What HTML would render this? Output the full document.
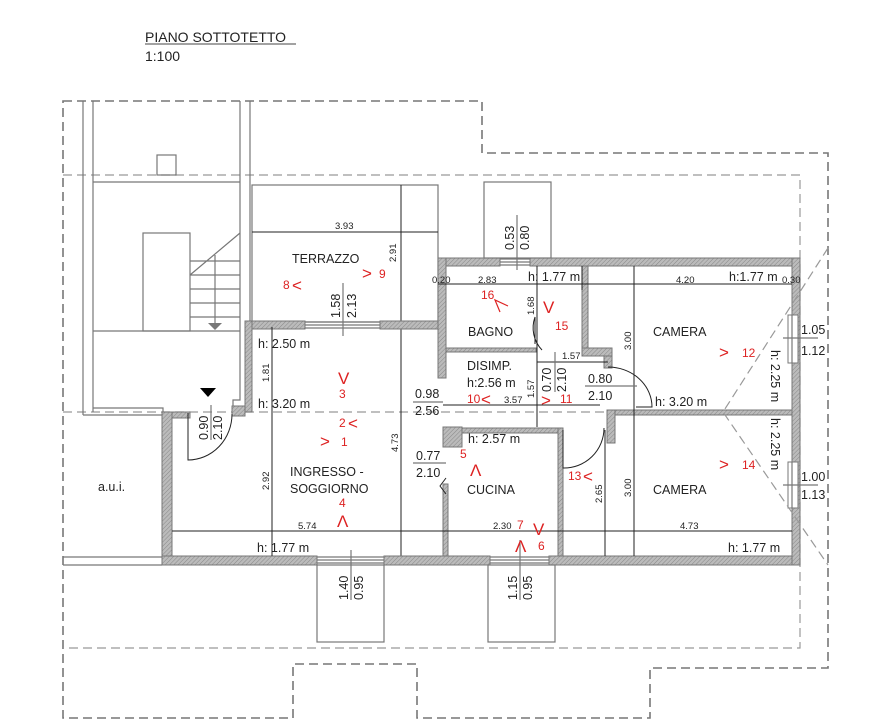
<!DOCTYPE html>
<html><head><meta charset="utf-8"><style>
html,body{margin:0;padding:0;background:#fff;}
svg{display:block;font-family:"Liberation Sans",sans-serif;}
.d{fill:none;stroke:#777;stroke-width:1.6;stroke-dasharray:9 5;}
.dl{fill:none;stroke:#999;stroke-width:1.2;stroke-dasharray:9 5;}
.l{fill:none;stroke:#777;stroke-width:1.2;}
.k{fill:none;stroke:#222;stroke-width:1;}
.w{fill:url(#h);stroke:#777;stroke-width:1;}
.t{font-size:12.5px;fill:#222;}
.s{font-size:9.5px;fill:#222;}
.r{font-size:12px;fill:#d22;}
.rc{font-size:17px;fill:#d22;font-weight:300;}
.rp{fill:none;stroke:#d22;stroke-width:1.2;}
</style></head><body>
<svg width="895" height="727" viewBox="0 0 895 727">
<defs><pattern id="h" width="3" height="3" patternUnits="userSpaceOnUse" patternTransform="rotate(45)"><rect width="3" height="3" fill="#bbb"/><line x1="0" y1="0" x2="0" y2="3" stroke="#888" stroke-width="1"/></pattern></defs>

<text x="145" y="42" style="font-size:14px" fill="#222">PIANO SOTTOTETTO</text>
<line x1="145" y1="44" x2="296" y2="44" stroke="#444" stroke-width="1"/>
<text x="145" y="61" style="font-size:14px" fill="#222">1:100</text>

<path class="d" d="M63,101 H482 V153 H828 V668 H650 V718 H417 V664 H293 V718 H63 Z"/>
<path class="dl" d="M63,175 H800 V648 H63"/>
<line class="dl" x1="63" y1="412" x2="620" y2="412"/>

<path class="l" d="M83,101 V415 M93,101 V412 M240,101 V325 M250,101 V322"/>
<rect class="l" x="157" y="155" width="19" height="20"/>
<line class="l" x1="93" y1="182" x2="240" y2="182"/>
<line class="l" x1="93" y1="331" x2="240" y2="331"/>
<rect class="l" x="143" y="233" width="47" height="98"/>
<path class="l" d="M190,275 L240,233 M190,261 H240 M190,275 H240 M190,289 H240 M190,303 H240 M190,317 H240"/>
<line class="l" x1="215" y1="255" x2="215" y2="323"/>
<path d="M208,323 H222 L215,330 Z" fill="#777"/>
<path class="l" d="M83,415 H163 M93,408 H163 V412 M240,325 V400 H233 V412"/>
<path d="M200,388 H216 L208,397 Z" fill="#000"/>
<path class="l" d="M63,557 H162 M63,565 H162"/>
<text class="t" x="98" y="491">a.u.i.</text>

<rect class="l" x="252" y="185" width="186" height="137"/>
<line class="k" x1="252" y1="232" x2="438" y2="232"/>
<text class="s" x="335" y="229">3.93</text>
<line class="k" x1="401" y1="185" x2="401" y2="556"/>
<text class="s" transform="translate(396,262) rotate(-90)">2.91</text>
<text class="t" x="292" y="263">TERRAZZO</text>
<text class="r" x="283" y="289">8</text><text class="rc" x="292" y="291">&lt;</text>
<text class="rc" x="362" y="279">&gt;</text><text class="r" x="379" y="278">9</text>
<line class="l" x1="343" y1="283" x2="343" y2="336"/>
<text class="t" transform="translate(340,318) rotate(-90)">1.58</text>
<text class="t" transform="translate(356,318) rotate(-90)">2.13</text>

<rect class="w" x="245" y="321" width="60" height="8"/>
<rect class="w" x="380" y="321" width="66" height="8"/>
<path class="l" d="M305,322 H380 M305,325 H380 M305,328 H380"/>
<rect class="w" x="245" y="321" width="7" height="91"/>
<rect class="w" x="162" y="412" width="28" height="6"/>
<rect class="w" x="232" y="406" width="13" height="10"/>
<rect class="w" x="162" y="412" width="10" height="153"/>
<rect class="w" x="162" y="556" width="155" height="9"/>
<rect class="w" x="384" y="556" width="106" height="9"/>
<rect class="w" x="549" y="556" width="251" height="9"/>
<path class="l" d="M317,557 H384 M317,560 H384 M317,563 H384 M490,557 H549 M490,560 H549 M490,563 H549"/>
<rect class="l" x="317" y="565" width="67" height="77"/>
<rect class="l" x="488" y="565" width="67" height="77"/>
<line class="l" x1="351" y1="550" x2="351" y2="600"/>
<text class="t" transform="translate(348,600) rotate(-90)">1.40</text>
<text class="t" transform="translate(363,600) rotate(-90)">0.95</text>
<line class="l" x1="520" y1="540" x2="520" y2="600"/>
<text class="t" transform="translate(517,600) rotate(-90)">1.15</text>
<text class="t" transform="translate(532,600) rotate(-90)">0.95</text>

<rect class="w" x="438" y="258" width="62" height="8"/>
<rect class="w" x="530" y="258" width="270" height="8"/>
<path class="l" d="M500,259 H530 M500,262 H530 M500,265 H530"/>
<rect class="l" x="484" y="182" width="67" height="76"/>
<line class="l" x1="517" y1="215" x2="517" y2="270"/>
<text class="t" transform="translate(514,250) rotate(-90)">0.53</text>
<text class="t" transform="translate(529,250) rotate(-90)">0.80</text>
<rect class="w" x="792" y="258" width="8" height="307"/>
<rect fill="#fff" stroke="#777" x="788" y="315" width="10" height="48"/>
<rect fill="#fff" stroke="#777" x="788" y="462" width="10" height="46"/>
<line class="l" x1="792" y1="315" x2="792" y2="363"/><line class="l" x1="792" y1="462" x2="792" y2="508"/>
<rect class="w" x="438" y="258" width="8" height="120"/>
<rect class="w" x="446" y="348" width="90" height="4"/>
<rect class="w" x="582" y="266" width="6" height="82"/>
<rect class="w" x="582" y="348" width="30" height="8"/>
<rect class="w" x="604" y="356" width="8" height="12"/>
<rect class="w" x="612" y="410" width="180" height="5"/>
<rect class="w" x="607" y="410" width="8" height="33"/>
<rect class="w" x="443" y="427" width="19" height="20"/>
<rect class="w" x="462" y="428" width="101" height="5"/>
<rect class="w" x="558" y="428" width="5" height="128"/>
<rect class="w" x="443" y="484" width="5" height="72"/>
<path class="k" d="M188,413 V460 A44,46 0 0 0 232,414"/>
<line class="l" x1="211" y1="405" x2="211" y2="440"/>
<text class="t" transform="translate(208,440) rotate(-90)">0.90</text>
<text class="t" transform="translate(222,440) rotate(-90)">2.10</text>
<path class="k" d="M608,367 A44,40 0 0 1 652,407 H636"/>
<path class="k" d="M535,344 V317 A32,32 0 0 0 542,350"/>
<path class="k" d="M563,430 V468 A40,40 0 0 0 604,428"/>
<path class="k" d="M446,478 L440,486 L446,494"/>

<path class="dl" d="M828,248 L723,412 L828,565"/>

<line class="k" x1="438" y1="284" x2="792" y2="284"/>
<text class="s" x="432" y="283">0.20</text>
<text class="s" x="478" y="283">2.83</text>
<text class="t" x="528" y="281">h: 1.77 m</text>
<line class="k" x1="582" y1="266" x2="582" y2="290"/>
<text class="s" x="676" y="283">4.20</text>
<text class="t" x="729" y="281">h:1.77 m</text>
<text class="s" x="782" y="283">0.30</text>
<line class="k" x1="537" y1="266" x2="537" y2="427"/>
<text class="s" transform="translate(534,315) rotate(-90)">1.68</text>
<text class="s" transform="translate(534,398) rotate(-90)">1.57</text>
<line class="k" x1="537" y1="362" x2="608" y2="362"/>
<text class="s" x="562" y="359">1.57</text>
<line class="l" x1="555" y1="352" x2="555" y2="392"/>
<text class="t" transform="translate(551,392) rotate(-90)">0.70</text>
<text class="t" transform="translate(566,392) rotate(-90)">2.10</text>
<line class="k" x1="634" y1="266" x2="634" y2="556"/>
<text class="s" transform="translate(631,350) rotate(-90)">3.00</text>
<text class="s" transform="translate(631,497) rotate(-90)">3.00</text>
<line class="k" x1="605" y1="430" x2="605" y2="556"/>
<text class="s" transform="translate(602,503) rotate(-90)">2.65</text>
<text class="t" transform="translate(771,350) rotate(90)">h: 2.25 m</text>
<text class="t" transform="translate(771,418) rotate(90)">h: 2.25 m</text>
<line class="l" x1="783" y1="338" x2="818" y2="338"/>
<text class="t" x="801" y="334">1.05</text><text class="t" x="801" y="355">1.12</text>
<line class="l" x1="783" y1="485" x2="818" y2="485"/>
<text class="t" x="801" y="481">1.00</text><text class="t" x="801" y="499">1.13</text>

<text class="t" x="467" y="370">DISIMP.</text>
<text class="t" x="467" y="387">h:2.56 m</text>
<text class="t" x="588" y="383">0.80</text>
<line class="l" x1="585" y1="386" x2="637" y2="386"/>
<text class="t" x="588" y="400">2.10</text>
<text class="t" x="655" y="406">h: 3.20 m</text>
<text class="r" x="467" y="403">10</text><text class="rc" x="481" y="405">&lt;</text>
<text class="s" x="504" y="403">3.57</text>
<text class="rc" x="541" y="406">&gt;</text><text class="r" x="560" y="403">11</text>
<line class="k" x1="443" y1="405" x2="600" y2="405"/>
<text class="t" x="415" y="398">0.98</text>
<line class="l" x1="413" y1="402" x2="443" y2="402"/>
<text class="t" x="415" y="415">2.56</text>
<text class="t" x="468" y="443">h: 2.57 m</text>
<text class="r" x="460" y="458">5</text><text class="rc" x="470" y="476">Λ</text>
<text class="t" x="416" y="460">0.77</text>
<line class="l" x1="413" y1="463" x2="446" y2="463"/>
<text class="t" x="416" y="477">2.10</text>
<text class="t" x="467" y="494">CUCINA</text>
<text class="r" x="568" y="480">13</text><text class="rc" x="583" y="482">&lt;</text>
<line class="k" x1="172" y1="531" x2="792" y2="531"/>
<text class="s" x="493" y="529">2.30</text>
<text class="r" x="517" y="529">7</text>
<text class="rc" x="533" y="535">V</text><text class="r" x="538" y="550">6</text>
<text class="rc" x="515" y="552">Λ</text>
<text class="s" x="680" y="529">4.73</text>
<text class="s" x="298" y="529">5.74</text>
<text class="t" x="257" y="552">h: 1.77 m</text>
<text class="t" x="728" y="552">h: 1.77 m</text>
<text class="t" x="653" y="336">CAMERA</text>
<text class="rc" x="719" y="358">&gt;</text><text class="r" x="742" y="357">12</text>
<text class="t" x="653" y="494">CAMERA</text>
<text class="rc" x="719" y="470">&gt;</text><text class="r" x="742" y="469">14</text>
<text class="t" x="468" y="336">BAGNO</text>
<text class="r" x="481" y="299">16</text>
<path class="rp" d="M500,312 L495,300 L508,306"/>
<text class="rc" x="543" y="313">V</text><text class="r" x="555" y="330">15</text>

<text class="t" x="258" y="348">h: 2.50 m</text>
<line class="k" x1="272" y1="327" x2="272" y2="556"/>
<text class="s" transform="translate(269,382) rotate(-90)">1.81</text>
<text class="t" x="258" y="408">h: 3.20 m</text>
<text class="s" transform="translate(269,490) rotate(-90)">2.92</text>
<text class="s" transform="translate(398,452) rotate(-90)">4.73</text>
<text class="rc" x="338" y="384">V</text><text class="r" x="339" y="398">3</text>
<text class="r" x="339" y="427">2</text><text class="rc" x="348" y="429">&lt;</text>
<text class="rc" x="320" y="447">&gt;</text><text class="r" x="341" y="446">1</text>
<text class="t" x="290" y="476">INGRESSO -</text>
<text class="t" x="290" y="493">SOGGIORNO</text>
<text class="r" x="339" y="507">4</text><text class="rc" x="337" y="527">Λ</text>
</svg>
</body></html>
